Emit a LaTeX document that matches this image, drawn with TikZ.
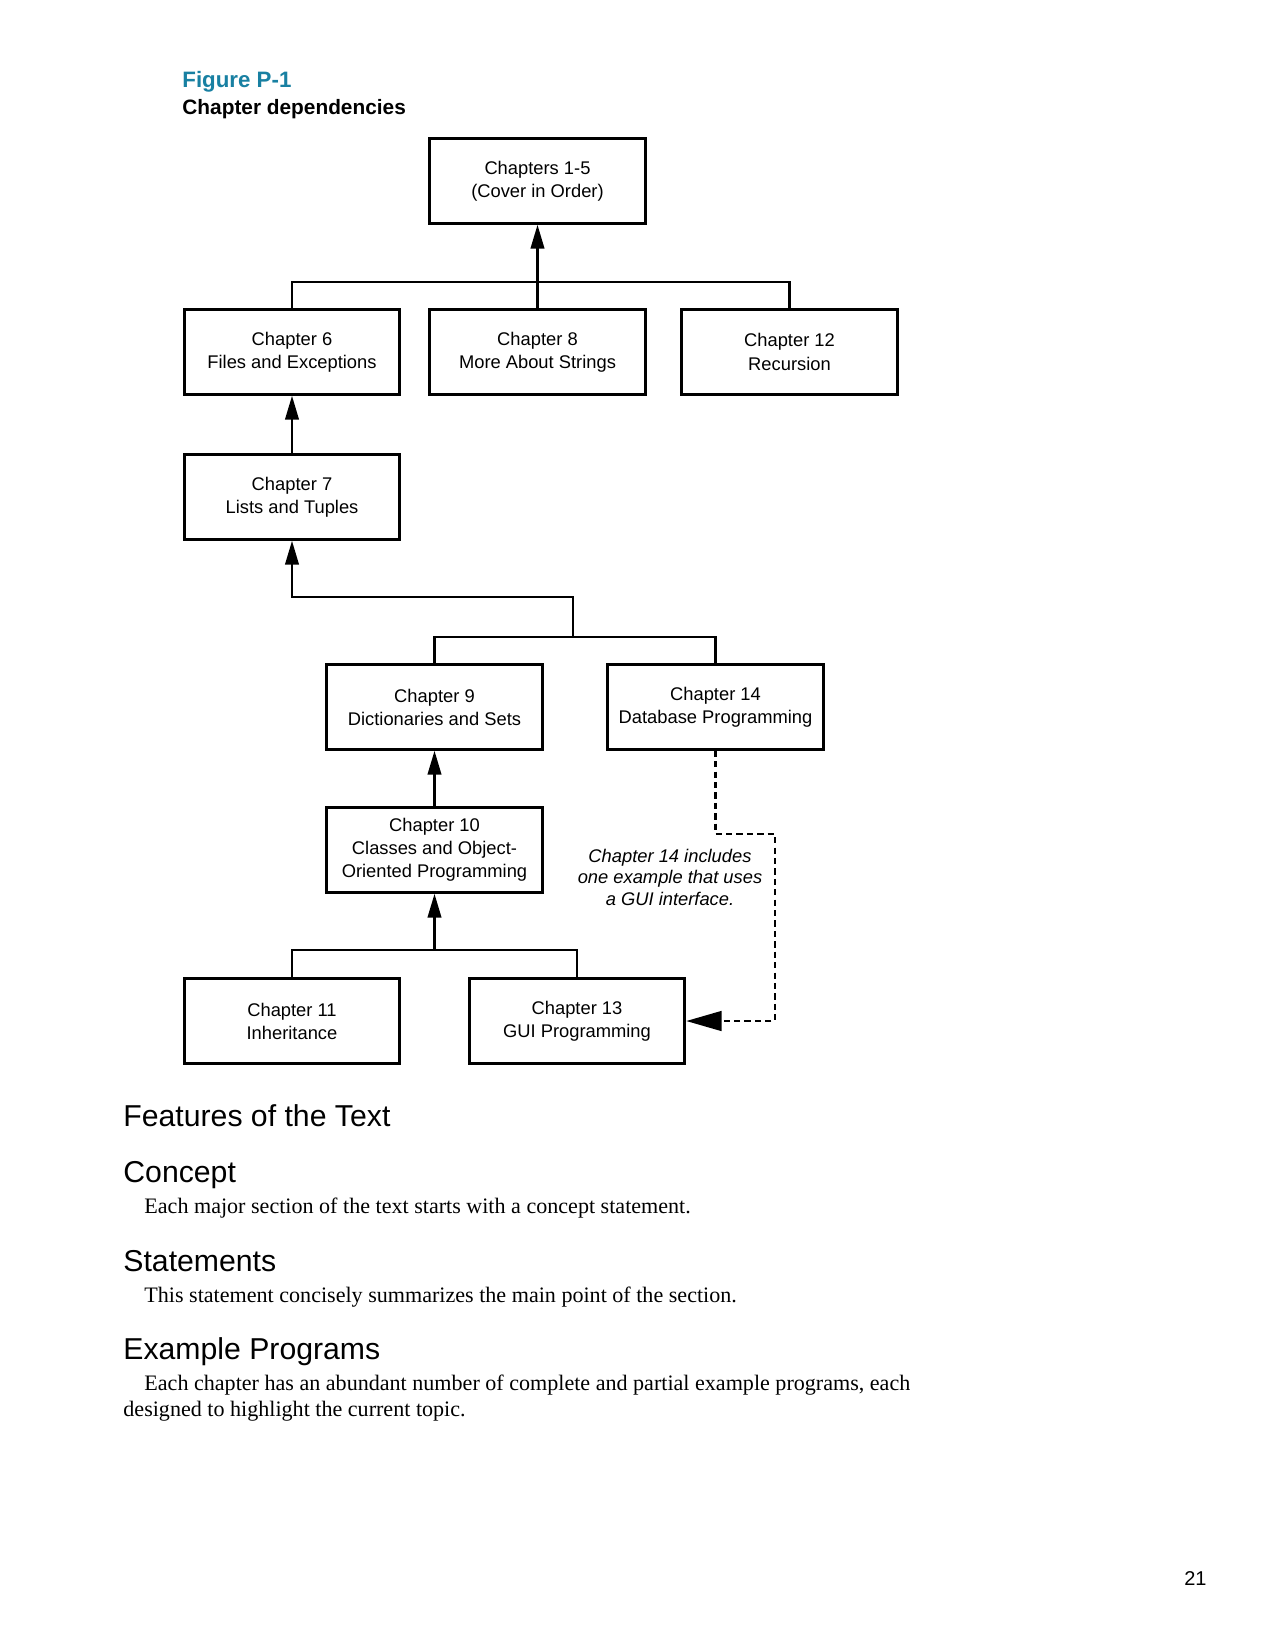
\documentclass[tikz,border=0pt]{standalone}
\usepackage{fontspec}
\setmainfont{Liberation Serif}
\setsansfont{Liberation Sans}
\usetikzlibrary{arrows.meta}
\definecolor{figteal}{RGB}{24,128,162}

\begin{document}
\begin{tikzpicture}[x=0.48pt, y=-0.48pt,
    chap/.style={draw, line width=1.4pt, minimum width=103.5pt, minimum height=40.6pt, inner sep=0pt, align=center, font=\sffamily\fontsize{8.8}{11.1}\selectfont},
    link/.style={line width=1.2pt},
    dep/.style={link, -{Triangle[length=11.5pt, width=6.5pt]}},
    gui/.style={line width=1.1pt, dash pattern=on 3pt off 2pt, -{Triangle[length=17pt, width=9.5pt]}},
    note/.style={inner sep=0pt, align=center, font=\sffamily\itshape\fontsize{8.8}{10.3}\selectfont},
    head/.style={anchor=base west, inner sep=0pt, font=\sffamily\fontsize{14.5}{17}\selectfont},
    body/.style={anchor=base west, inner sep=0pt, font=\rmfamily\fontsize{10.6}{12}\selectfont}]
  \fill[white] (0,0) rectangle (1275,1632);

  % Caption
  \node[anchor=base west, inner sep=0pt, text=figteal, font=\sffamily\bfseries\fontsize{10.7}{13}\selectfont] (fig) at (182,87) {Figure P-1};
  \node[anchor=base west, inner sep=0pt, font=\sffamily\bfseries\fontsize{10}{12}\selectfont] (cap) at (182,114) {Chapter dependencies};

  % Chapter boxes
  \node[chap] (c15) at (537.5,181) {Chapters 1-5\\(Cover in Order)};
  \node[chap] (c6) at (292,352) {Chapter 6\\Files and Exceptions};
  \node[chap] (c8) at (537.5,352) {Chapter 8\\More About Strings};
  \node[chap] (c12) at (789.5,352) {Chapter 12\\Recursion};
  \node[chap] (c7) at (292,497) {Chapter 7\\Lists and Tuples};
  \node[chap] (c9) at (434.5,707) {Chapter 9\\Dictionaries and Sets};
  \node[chap] (c14) at (715.5,707) {Chapter 14\\Database Programming};
  \node[chap] (c10) at (434.5,850) {Chapter 10\\Classes and Object-\\Oriented Programming};
  \node[chap] (c11) at (292,1021) {Chapter 11\\Inheritance};
  \node[chap] (c13) at (577,1021) {Chapter 13\\GUI Programming};
  \node[note] (gui) at (670,877) {Chapter 14 includes\\one example that uses\\a GUI interface.};

  % Dependencies
  \coordinate (bus1) at (537.5,282);
  \draw[link] (c6.north) |- (bus1) -| (c12.north);
  \draw[dep] (c8.north) -- (c15.south);
  \draw[dep] (c7.north) -- (c6.south);

  \coordinate (bus2) at (573,637);
  \coordinate (turn2) at (573,597);
  \draw[link] (c9.north) |- (bus2) -| (c14.north);
  \draw[dep] (bus2) -- (turn2) -| (c7.south);
  \draw[dep] (c10.north) -- (c9.south);

  \coordinate (bus3) at (434.5,950);
  \draw[link] (c11.north) |- (bus3) -| (c13.north);
  \draw[dep] (bus3) -- (c10.south);

  % GUI note
  \coordinate (gui1) at (775,834);
  \draw[gui] (c14.south) |- (gui1) |- (c13.east);

  % Text below the figure
  \node[head] (feat) at (123,1126) {Features of the Text};
  \node[head] (hcon) at (123,1182) {Concept};
  \node[body] (tcon) at (144,1213) {Each major section of the text starts with a concept statement.};
  \node[head] (hsta) at (123,1271) {Statements};
  \node[body] (tsta) at (144,1302) {This statement concisely summarizes the main point of the section.};
  \node[head] (hexa) at (123,1359) {Example Programs};
  \node[body] (texa) at (144,1390) {Each chapter has an abundant number of complete and partial example programs, each};
  \node[body] (texb) at (123,1416) {designed to highlight the current topic.};
  \node[anchor=base east, inner sep=0pt, font=\sffamily\fontsize{9.6}{12}\selectfont] (pg) at (1207,1585) {21};
\end{tikzpicture}
\end{document}
